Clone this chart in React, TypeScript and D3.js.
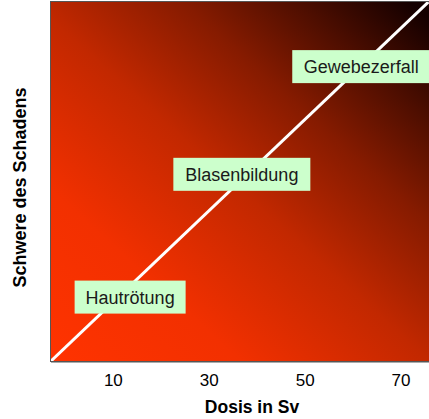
import React from "react";
import * as d3 from "d3";

const xTicks = [10, 30, 50, 70];
const xDomain = [-3, 80];
const yDomain = [0, 100];
const diagonal = [
  { x: -3, y: 0 },
  { x: 75.7, y: 100 },
];
const labels = ["Hautrötung", "Blasenbildung", "Gewebezerfall"];
const labelX = [13.5, 36.8, 61.7];
const labelY = [17.8, 52, 82];
const gradientStops = [
  { o: 0, c: "#ff3300" },
  { o: 0.25, c: "#f23000" },
  { o: 0.5, c: "#c22800" },
  { o: 0.7, c: "#861b00" },
  { o: 0.85, c: "#4e0e00" },
  { o: 1, c: "#140000" },
];

const W = 429;
const H = 419;
const left = 51;
const right = 449;
const top = 2;
const bottom = 361;
const font = "'Liberation Sans', Arial, Helvetica, sans-serif";

export default function App() {
  const x = d3.scaleLinear().domain(xDomain).range([left, right]);
  const y = d3.scaleLinear().domain(yDomain).range([bottom, top]);
  const line = d3
    .line<{ x: number; y: number }>()
    .x((d) => x(d.x))
    .y((d) => y(d.y));
  const fs = 18;
  const widths = [111, 137, 138];
  return (
    <svg
      width={W}
      height={H}
      style={{ position: "absolute", left: 0, top: 0 }}
      fontFamily={font}
    >
      <defs>
        <linearGradient id="bg" x1="0" y1="1" x2="0.95" y2="0">
          {gradientStops.map((s) => (
            <stop key={s.o} offset={s.o} stopColor={s.c} />
          ))}
        </linearGradient>
        <clipPath id="plot">
          <rect x={left} y={top} width={right - left} height={bottom - top} />
        </clipPath>
      </defs>
      <rect
        x={left}
        y={top}
        width={W - left}
        height={bottom - top}
        fill="url(#bg)"
      />
      <line x1={left} x2={W} y1={bottom + 1.5} y2={bottom + 1.5} stroke="#aaa" strokeWidth={1} />
      <line x1={left} x2={W} y1={bottom + 0.5} y2={bottom + 0.5} stroke="#555" strokeWidth={1} />
      <line x1={left} x2={W} y1={top - 0.5} y2={top - 0.5} stroke="#555" strokeWidth={1} />
      <line x1={left - 0.5} x2={left - 0.5} y1={top - 1} y2={bottom + 1} stroke="#555" strokeWidth={1} />
      <path
        d={line(diagonal) || ""}
        stroke="#fff"
        strokeWidth={3}
        fill="none"
        clipPath="url(#plot)"
      />
      {labels.map((t, i) => {
        const cx = x(labelX[i]);
        const cy = y(labelY[i]);
        const w = widths[i];
        return (
          <g key={t}>
            <rect x={cx - w / 2} y={cy - 16.5} width={w} height={33} fill="#ccffcc" />
            <text
              x={cx}
              y={cy + 6.5}
              textAnchor="middle"
              fontSize={fs}
              fill="#1a1a1a"
            >
              {t}
            </text>
          </g>
        );
      })}
      {xTicks.map((t) => (
        <text key={t} x={x(t)} y={386} textAnchor="middle" fontSize={17} fill="#000">
          {t}
        </text>
      ))}
      <text x={252} y={413} textAnchor="middle" fontSize={17.5} fontWeight="bold" fill="#000">
        Dosis in Sv
      </text>
      <text
        transform={`translate(26,${(top + bottom) / 2 + 6}) rotate(-90)`}
        textAnchor="middle"
        fontSize={18}
        fontWeight="bold"
        fill="#000"
      >
        Schwere des Schadens
      </text>
    </svg>
  );
}
